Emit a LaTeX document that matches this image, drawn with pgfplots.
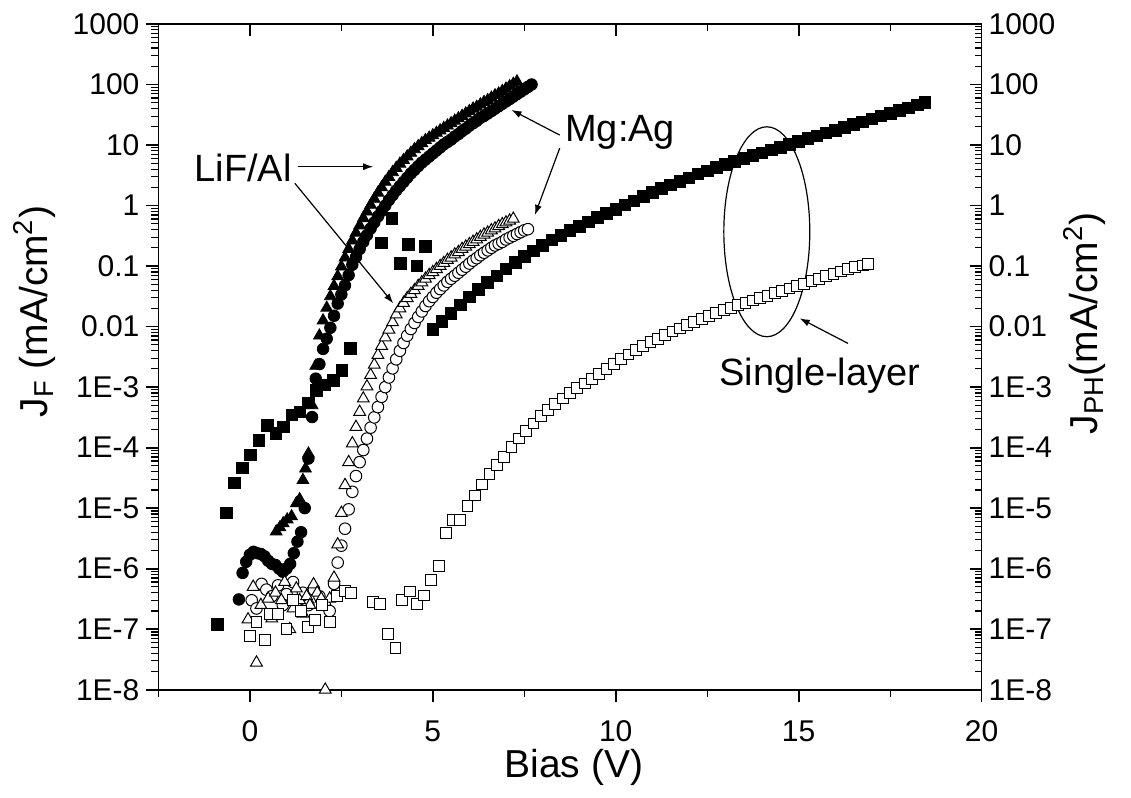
\documentclass[border=0pt]{standalone}
\usepackage{fontspec}
\setmainfont{Liberation Sans}
\usepackage{pgfplots}
\pgfplotsset{compat=1.18}
\usetikzlibrary{arrows.meta}
\pgfplotsset{
  common/.style={
    width=411.75pt, height=333pt, scale only axis,
    xmin=-2.5, xmax=20, ymin=1e-8, ymax=1000,
    xtick={0,5,10,15,20}, minor xtick={-2.5,2.5,7.5,12.5,17.5},
    ytickten={-8,...,3},
    major tick length=6pt, minor tick length=3.5pt,
    major tick style={black, line width=0.9pt},
    minor tick style={black, line width=0.6pt},
    axis line style={line width=0.9pt},
    tick label style={font=\fontsize{15}{18}\selectfont},
    label style={font=\fontsize{19.5}{23}\selectfont},
  },
  fsq/.style={only marks, mark=square*, mark size=2.9pt, mark options={black, fill=black}},
  osq/.style={only marks, mark=square*, mark size=2.7pt, mark options={draw=black, fill=white, line width=0.5pt}},
  fci/.style={only marks, mark=*, mark size=2.9pt, mark options={black, fill=black}},
  oci/.style={only marks, mark=*, mark size=2.9pt, mark options={draw=black, fill=white, line width=0.5pt}},
  ftr/.style={only marks, mark=triangle*, mark size=3.4pt, mark options={black, fill=black}},
  otr/.style={only marks, mark=triangle*, mark size=3.4pt, mark options={draw=black, fill=white, line width=0.5pt}},
}
\tikzset{
  ann/.style={font=\fontsize{19}{22}\selectfont, inner sep=0pt},
  arr/.style={-{Latex[length=5pt,width=3.5pt]}, line width=0.6pt},
}
\begin{document}
\begin{tikzpicture}
\useasboundingbox (-79.25pt,-54pt) rectangle (486.5pt,345pt);
\begin{axis}[common, ymode=log, axis x line*=bottom, axis y line*=left, tick align=outside,
  xticklabels={0,5,10,15,20},
  xticklabel style={yshift=-6pt},
  yticklabels={1E-8,1E-7,1E-6,1E-5,1E-4,1E-3,0.01,0.1,1,10,100,1000},
  xlabel={Bias (V)}, ylabel={J\textsubscript{F} (mA/cm\textsuperscript{2})},
  xlabel style={at={(axis description cs:0.5046,-0.117)}, anchor=center},
  ylabel style={at={(axis description cs:-0.151,0.568)}, anchor=center},
]
% Mg:Ag J_F (filled circles)
\addplot[fci] table {
-0.3 3.1e-7
-0.2 8.5e-7
-0.1 1.3e-6
0.0 1.7e-6
0.1 1.9e-6
0.2 1.8e-6
0.3 1.75e-6
0.4 1.6e-6
0.5 1.35e-6
0.6 1.2e-6
0.7 1.15e-6
0.8 1.0e-6
0.9 8.9e-7
1.0 1.0e-6
1.1 1.2e-6
1.2 1.8e-6
1.3 2.8e-6
1.4 4.0e-6
1.5 1.0e-5
1.6 6.6e-5
1.7 3.2e-4
1.8 1.38e-3
1.9 2.40e-3
2.0 4.27e-3
2.1 6.31e-3
2.2 9.55e-3
2.3 1.51e-2
2.4 2.40e-2
2.5 3.39e-2
2.6 4.79e-2
2.7 7.08e-2
2.8 0.105
2.9 0.141
3.0 0.191
3.1 0.251
3.2 0.324
3.3 0.417
3.4 0.525
3.5 0.661
3.6 0.813
3.7 1.0
3.8 1.23
3.9 1.479
4.0 1.778
4.1 2.089
4.2 2.455
4.3 2.884
4.4 3.388
4.5 3.89
4.6 4.467
4.7 5.129
4.8 5.754
4.9 6.457
5.0 7.244
5.1 8.128
5.2 9.12
5.3 10.23
5.4 11.22
5.5 12.3
5.6 13.8
5.7 15.14
5.8 16.98
5.9 18.62
6.0 20.89
6.1 22.91
6.2 25.12
6.3 28.18
6.4 30.2
6.5 33.1
6.6 36.3
6.7 39.8
6.8 43.65
6.9 47.86
7.0 52.5
7.1 57.5
7.2 63.1
7.3 69.2
7.4 75.9
7.5 83.2
7.6 91.2
7.7 100.0
};
% LiF/Al J_F (filled triangles)
\addplot[ftr] table {
0.72 4.1e-6
0.82 4.8e-6
0.91 5.6e-6
1.02 6.5e-6
1.14 7.3e-6
1.27 1.2e-5
1.36 1.4e-5
1.45 2.9e-5
1.52 4.5e-5
1.6 7.94e-5
1.7 5.01e-4
1.8 2.24e-3
1.9 7.08e-3
2.0 1.26e-2
2.1 2.04e-2
2.2 3.16e-2
2.3 4.68e-2
2.4 6.76e-2
2.5 9.77e-2
2.6 0.138
2.7 0.191
2.8 0.263
2.9 0.355
3.0 0.468
3.1 0.617
3.2 0.794
3.3 1.023
3.4 1.288
3.5 1.622
3.6 1.995
3.7 2.455
3.8 2.951
3.9 3.548
4.0 4.169
4.1 4.898
4.2 5.623
4.3 6.457
4.4 7.413
4.5 8.511
4.6 9.55
4.7 10.72
4.8 12.02
4.9 13.18
5.0 14.45
5.1 15.85
5.2 17.38
5.3 19.05
5.4 20.89
5.5 22.91
5.6 25.12
5.7 27.54
5.8 30.2
5.9 33.11
6.0 36.31
6.1 39.81
6.2 42.66
6.3 46.77
6.4 51.29
6.5 54.95
6.6 60.26
6.7 66.07
6.8 70.79
6.9 77.62
7.0 85.11
7.1 93.33
7.2 102.3
7.3 112.2
};
% Single-layer J_F (filled squares)
\addplot[fsq] table {
-0.89 1.2e-7
-0.65 8.3e-6
-0.42 2.6e-5
-0.21 4.6e-5
0.02 7.6e-5
0.25 1.33e-4
0.48 2.35e-4
0.71 1.7e-4
0.91 2.2e-4
1.15 3.5e-4
1.37 3.9e-4
1.6 5.5e-4
1.82 8.9e-4
2.05 1.08e-3
2.28 1.3e-3
2.51 1.9e-3
2.74 4.4e-3
3.6 0.24
3.88 0.61
4.11 0.11
4.34 0.23
4.57 0.10
4.8 0.21
5.0 8.9e-3
5.25 1.23e-2
5.5 1.66e-2
5.75 2.29e-2
6.0 3.09e-2
6.25 4.07e-2
6.5 5.37e-2
6.75 6.92e-2
7.0 8.91e-2
7.25 0.1148
7.5 0.1445
7.75 0.178
8.0 0.219
8.25 0.269
8.5 0.324
8.75 0.389
9.0 0.457
9.25 0.537
9.5 0.631
9.75 0.741
10.0 0.871
10.25 1.023
10.5 1.202
10.75 1.413
11.0 1.66
11.25 1.905
11.5 2.188
11.75 2.512
12.0 2.884
12.25 3.311
12.5 3.715
12.75 4.266
13.0 4.786
13.25 5.37
13.5 6.026
13.75 6.761
14.0 7.413
14.25 8.318
14.5 9.226
14.75 10.23
15.0 11.48
15.25 12.74
15.5 14.13
15.75 15.85
16.0 17.58
16.25 19.5
16.5 21.88
16.75 24.27
17.0 26.92
17.25 30.2
17.5 33.5
17.75 37.15
18.0 41.21
18.25 45.7
18.45 50.1
};
% Mg:Ag J_PH (open circles)
\addplot[oci] table {
0.05 3.0e-7
0.18 2.2e-7
0.32 5.6e-7
0.45 4.5e-7
0.6 3.5e-7
0.77 5.3e-7
0.9 2.5e-7
1.0 3.8e-7
1.18 6.0e-7
1.3 3.0e-7
1.45 4.0e-7
1.6 2.5e-7
1.75 4.5e-7
1.9 3.5e-7
2.05 2.5e-7
2.18 2.0e-7
2.3 5.62e-7
2.4 1.26e-6
2.5 2.40e-6
2.6 4.57e-6
2.7 9.55e-6
2.8 1.86e-5
2.9 3.39e-5
3.0 5.75e-5
3.1 9.12e-5
3.2 1.41e-4
3.3 2.14e-4
3.4 3.16e-4
3.5 4.68e-4
3.6 6.92e-4
3.7 1.0e-3
3.8 1.445e-3
3.9 2.04e-3
4.0 2.88e-3
4.1 3.98e-3
4.2 5.37e-3
4.3 7.08e-3
4.4 9.12e-3
4.5 1.148e-2
4.6 1.445e-2
4.7 1.78e-2
4.8 2.19e-2
4.9 2.63e-2
5.0 3.09e-2
5.1 3.63e-2
5.2 4.17e-2
5.3 4.79e-2
5.4 5.50e-2
5.5 6.17e-2
5.6 6.92e-2
5.7 7.76e-2
5.8 8.71e-2
5.9 9.77e-2
6.0 0.110
6.1 0.123
6.2 0.135
6.3 0.151
6.4 0.166
6.5 0.182
6.6 0.200
6.7 0.219
6.8 0.234
6.9 0.251
7.0 0.275
7.1 0.295
7.2 0.316
7.3 0.339
7.4 0.363
7.5 0.389
7.6 0.407
};
% LiF/Al J_PH (open triangles)
\addplot[otr] table {
-0.05 1.45e-7
0.09 5.0e-7
0.18 2.8e-8
0.3 2.5e-7
0.5 3.2e-7
0.6 1.5e-7
0.7 4.0e-7
0.86 3.0e-7
0.95 6.0e-7
1.09 1.0e-7
1.18 2.2e-7
1.27 4.7e-7
1.36 3.0e-7
1.45 1.8e-7
1.55 3.5e-7
1.64 2.5e-7
1.74 5.5e-7
1.84 4.0e-7
1.95 3.2e-7
2.06 1.0e-8
2.18 3.2e-7
2.3 7.08e-7
2.4 2.51e-6
2.5 8.32e-6
2.6 2.40e-5
2.7 5.75e-5
2.8 1.175e-4
2.9 2.19e-4
3.0 3.89e-4
3.1 6.46e-4
3.2 1.023e-3
3.3 1.585e-3
3.4 2.34e-3
3.5 3.39e-3
3.6 4.79e-3
3.7 6.61e-3
3.8 8.91e-3
3.9 1.175e-2
4.0 1.585e-2
4.1 2.0e-2
4.2 2.45e-2
4.3 2.95e-2
4.4 3.47e-2
4.5 3.98e-2
4.6 4.68e-2
4.7 5.37e-2
4.8 6.17e-2
4.9 7.08e-2
5.0 7.94e-2
5.1 8.91e-2
5.2 0.100
5.3 0.112
5.4 0.126
5.5 0.138
5.6 0.155
5.7 0.170
5.8 0.191
5.9 0.209
6.0 0.229
6.1 0.251
6.2 0.275
6.3 0.302
6.4 0.331
6.5 0.355
6.6 0.389
6.7 0.417
6.8 0.457
6.9 0.490
7.0 0.525
7.1 0.562
7.2 0.603
};
% Single-layer J_PH (open squares)
\addplot[osq] table {
0.0 7.6e-8
0.18 1.3e-7
0.41 6.6e-8
0.55 1.8e-7
0.77 1.8e-7
1.0 1.0e-7
1.18 3.0e-7
1.39 2.0e-7
1.59 1.1e-7
1.77 1.4e-7
1.97 2.5e-7
2.18 1.3e-7
2.38 3.5e-7
2.59 4.3e-7
2.77 4.0e-7
3.37 2.8e-7
3.56 2.6e-7
3.78 8.3e-8
3.98 4.9e-8
4.16 3.0e-7
4.37 4.2e-7
4.57 2.6e-7
4.77 3.6e-7
4.96 6.5e-7
5.16 1.1e-6
5.35 3.89e-6
5.55 6.31e-6
5.75 6.46e-6
5.95 1.07e-5
6.15 1.62e-5
6.35 2.45e-5
6.55 3.63e-5
6.75 5.13e-5
6.95 7.08e-5
7.15 1.02e-4
7.35 1.41e-4
7.55 1.91e-4
7.75 2.51e-4
7.95 3.31e-4
8.15 4.17e-4
8.35 5.25e-4
8.55 6.46e-4
8.75 7.94e-4
8.95 9.55e-4
9.15 1.148e-3
9.35 1.38e-3
9.55 1.66e-3
9.75 2.0e-3
9.95 2.40e-3
10.15 2.88e-3
10.35 3.47e-3
10.55 4.07e-3
10.75 4.79e-3
10.95 5.50e-3
11.15 6.31e-3
11.35 7.24e-3
11.55 8.32e-3
11.75 9.33e-3
11.95 1.047e-2
12.15 1.175e-2
12.35 1.318e-2
12.55 1.479e-2
12.75 1.66e-2
12.95 1.862e-2
13.15 2.04e-2
13.35 2.24e-2
13.55 2.45e-2
13.75 2.69e-2
13.95 2.95e-2
14.15 3.24e-2
14.35 3.55e-2
14.55 3.89e-2
14.75 4.27e-2
14.95 4.68e-2
15.15 5.13e-2
15.35 5.62e-2
15.55 6.17e-2
15.75 6.76e-2
15.95 7.41e-2
16.15 8.13e-2
16.35 8.91e-2
16.55 9.55e-2
16.75 0.1023
16.9 0.1096
};
% annotations
\node[ann, anchor=base east] at (axis cs:1.15,2.47) {LiF/Al};
\draw[arr] (axis cs:1.32,4.38) -- (axis cs:3.37,4.38);
\draw[arr] (axis cs:1.23,2.33) -- (axis cs:3.92,0.0242);
\node[ann, anchor=base west] at (axis cs:8.61,11.4) {Mg:Ag};
\draw[arr] (axis cs:8.47,14.6) -- (axis cs:7.15,38);
\draw[arr] (axis cs:8.47,8.9) -- (axis cs:7.79,0.70);
\node[ann, anchor=base west] at (axis cs:12.83,1.06e-3) {Single-layer};
\draw[arr] (axis cs:16.35,5.27e-3) -- (axis cs:15.03,0.01368);
\draw[line width=0.6pt] (axis cs:14.13,0.369) ellipse [x radius=21.5pt, y radius=52.5pt];
\end{axis}
\begin{axis}[common, ymode=log, axis x line*=top, axis y line*=right, tick align=inside,
  xticklabels={},
  yticklabels={1E-8,1E-7,1E-6,1E-5,1E-4,1E-3,0.01,0.1,1,10,100,1000},
  ylabel={J\textsubscript{PH}(mA/cm\textsuperscript{2})},
  ylabel style={at={(axis description cs:1.125,0.55)}, anchor=center},
]
\end{axis}
\end{tikzpicture}
\end{document}
